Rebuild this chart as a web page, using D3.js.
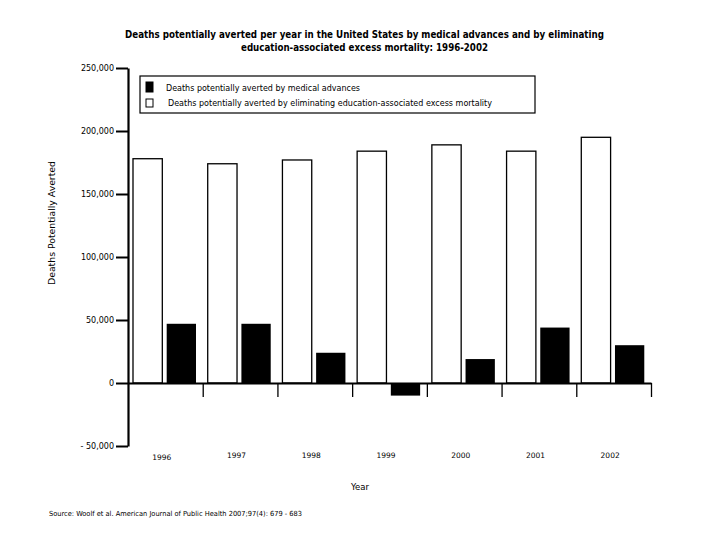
<!DOCTYPE html>
<html>
<head>
<meta charset="utf-8">
<script src="https://cdn.jsdelivr.net/npm/d3@7"></script>
<style>
  body { margin: 0; background: #fff; }
  svg { display: block; }
  text { fill: #000; }
</style>
</head>
<body>
<svg id="chart"></svg>
<script>
// chart data
var years = ["1996", "1997", "1998", "1999", "2000", "2001", "2002"];
var educationAverted = [178000, 174000, 177000, 184000, 189000, 184000, 195000];
var medicalAverted = [47000, 47000, 24000, -10000, 19000, 44000, 30000];
var yTicks = [-50000, 0, 50000, 100000, 150000, 200000, 250000];
var titleLines = ["Deaths potentially averted per year in the United States by medical advances and by eliminating",
                  "education-associated excess mortality: 1996-2002"];
var legendLabels = ["Deaths potentially averted by medical advances",
                    "Deaths potentially averted by eliminating education-associated excess mortality"];

var narrow = "'Liberation Sans Narrow', 'DejaVu Sans Condensed', sans-serif";
var plain = "'DejaVu Sans', Verdana, sans-serif";

var svg = d3.select("svg#chart")
            .attr("width", 720)
            .attr("height", 540);

var y = d3.scaleLinear()
          .domain([-50000, 250000])
          .range([446, 68]);

var x = d3.scaleBand()
          .domain(years)
          .range([128, 651]);

// two bars inside each year: education first (white), medical second (black)
var x1 = d3.scaleBand()
           .domain(["edu", "med"])
           .range([5, 68])
           .paddingInner(0.13);

var rows = years.map(function(yr, i) {
	return {year: yr, edu: educationAverted[i], med: medicalAverted[i]};
});

// title
svg.selectAll("text.title")
   .data(titleLines)
   .enter().append("text")
   .attr("class", "title")
   .attr("x", function(d, i) { return i == 0 ? 125 : 241; })
   .attr("y", function(d, i) { return 38 + i * 13; })
   .attr("textLength", function(d, i) { return i == 0 ? 479 : 247; })
   .attr("lengthAdjust", "spacingAndGlyphs")
   .style("font-family", narrow)
   .style("font-weight", "bold")
   .style("font-size", "10.5px")
   .text(function(d) { return d; });

// bars
var groups = svg.selectAll("g.year")
                .data(rows)
                .enter().append("g")
                .attr("class", "year")
                .attr("transform", function(d) { return "translate(" + x(d.year) + ",0)"; });

groups.append("rect")
      .attr("x", x1("edu"))
      .attr("width", x1.bandwidth())
      .attr("y", function(d) { return y(d.edu); })
      .attr("height", function(d) { return y(0) - y(d.edu); })
      .attr("fill", "#fff")
      .attr("stroke", "#000")
      .attr("stroke-width", 1.3);

groups.append("rect")
      .attr("x", x1("med"))
      .attr("width", x1.bandwidth())
      .attr("y", function(d) { return y(Math.max(0, d.med)); })
      .attr("height", function(d) { return Math.abs(y(0) - y(d.med)); })
      .attr("fill", "#000");

// y axis
var yAxis = d3.axisLeft(y)
              .tickValues(yTicks)
              .tickSize(12)
              .tickSizeOuter(0)
              .tickPadding(2)
              .tickFormat(function(d) {
              	return d < 0 ? "- " + d3.format(",")(-d) : d3.format(",")(d);
              });

var gy = svg.append("g")
            .attr("transform", "translate(128,0)")
            .call(yAxis);
gy.select(".domain").attr("stroke-width", 2.2);
gy.selectAll(".tick line").attr("stroke-width", 2);
gy.selectAll(".tick text")
  .style("font-family", plain)
  .style("font-size", "8px");

// zero line with ticks between the years
var xBound = d3.scaleLinear().domain([0, years.length]).range([128, 651]);
var xAxis = d3.axisBottom(xBound)
              .tickValues(d3.range(1, years.length + 1))
              .tickSize(14)
              .tickSizeOuter(0)
              .tickFormat("");

var gx = svg.append("g")
            .attr("transform", "translate(0," + y(0) + ")")
            .call(xAxis);
gx.select(".domain").attr("stroke-width", 2.2);
gx.selectAll(".tick line").attr("stroke-width", 1.3);

// year labels, sitting a little left of the band centre
svg.selectAll("text.yr")
   .data(years)
   .enter().append("text")
   .attr("class", "yr")
   .attr("x", function(d) { return x(d) + x.bandwidth() / 2 - 3.5; })
   .attr("y", function(d, i) { return i == 0 ? 460 : 458; })
   .attr("text-anchor", "middle")
   .style("font-family", plain)
   .style("font-size", "7.5px")
   .text(function(d) { return d; });

// axis titles
svg.append("text")
   .attr("x", 360)
   .attr("y", 490)
   .attr("text-anchor", "middle")
   .style("font-family", plain)
   .style("font-size", "8.5px")
   .text("Year");

svg.append("text")
   .attr("transform", "translate(55,223) rotate(-90)")
   .attr("text-anchor", "middle")
   .attr("textLength", 124)
   .attr("lengthAdjust", "spacingAndGlyphs")
   .style("font-family", plain)
   .style("font-size", "8.5px")
   .text("Deaths Potentially Averted");

// legend
var legend = svg.append("g");
legend.append("rect")
      .attr("x", 140).attr("y", 76)
      .attr("width", 395).attr("height", 37)
      .attr("fill", "#fff")
      .attr("stroke", "#000")
      .attr("stroke-width", 1.2);

var swatchFill = ["#000", "#fff"];
legendLabels.forEach(function(lbl, i) {
	legend.append("rect")
	      .attr("x", 146).attr("y", 82 + i * 17)
	      .attr("width", 7).attr("height", i == 0 ? 10 : 8)
	      .attr("fill", swatchFill[i])
	      .attr("stroke", "#000")
	      .attr("stroke-width", 1);
	legend.append("text")
	      .attr("x", i == 0 ? 166 : 168)
	      .attr("y", 91 + i * 15)
	      .attr("textLength", i == 0 ? 194 : 324)
	      .attr("lengthAdjust", "spacingAndGlyphs")
	      .style("font-family", narrow)
	      .style("font-size", "8.5px")
	      .text(lbl);
});

// source note
svg.append("text")
   .attr("x", 49)
   .attr("y", 516)
   .attr("textLength", 253)
   .attr("lengthAdjust", "spacingAndGlyphs")
   .style("font-family", narrow)
   .style("font-size", "7px")
   .text("Source:  Woolf et al. American Journal of Public Health 2007;97(4): 679 - 683");
</script>
</body>
</html>
